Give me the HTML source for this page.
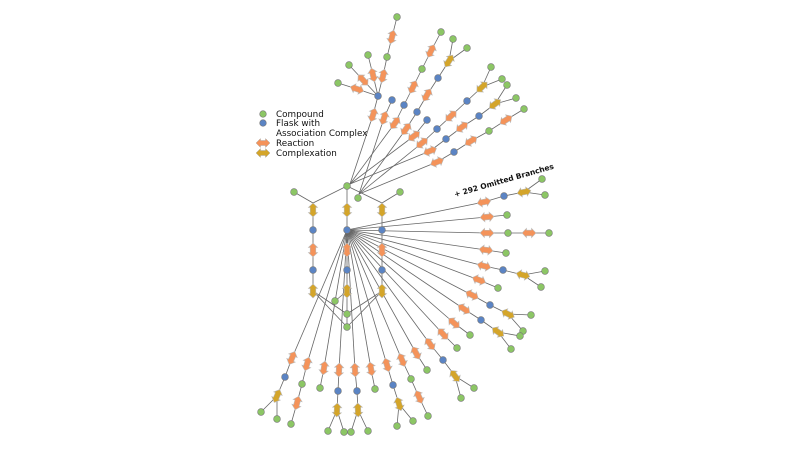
<!DOCTYPE html>
<html><head><meta charset="utf-8"><style>
html,body{margin:0;padding:0;background:#fff;width:800px;height:450px;overflow:hidden}
svg{display:block}
text{font-family:"DejaVu Sans","Liberation Sans",sans-serif;fill:#111}
</style></head><body>
<svg id="s" width="800" height="450" viewBox="0 0 800 450" xmlns="http://www.w3.org/2000/svg">
<g id="e" stroke="#666" stroke-width="0.8" fill="none"></g>
<g id="n" stroke="#777" stroke-width="0.6"></g>
<text x="455" y="197" font-size="7.5" font-weight="bold" transform="rotate(-16 455 197)">+ 292 Omitted Branches</text>
<g font-size="8.8">
<circle cx="263" cy="114" r="3.3" fill="#8cc665" stroke="#777" stroke-width="0.6"/>
<text x="276" y="117">Compound</text>
<circle cx="263" cy="123" r="3.3" fill="#5b84c4" stroke="#777" stroke-width="0.6"/>
<text x="276" y="126">Flask with</text>
<text x="276" y="136">Association Complex</text>
<polygon points="256,143 260.5,138.5 260.5,140.5 265.5,140.5 265.5,138.5 270,143 265.5,147.5 265.5,145.5 260.5,145.5 260.5,147.5" fill="#f4935a" stroke="#aaa" stroke-width="0.5"/>
<text x="276" y="146">Reaction</text>
<polygon points="256,153 260.5,148.5 260.5,150.5 265.5,150.5 265.5,148.5 270,153 265.5,157.5 265.5,155.5 260.5,155.5 260.5,157.5" fill="#d4a52a" stroke="#aaa" stroke-width="0.5"/>
<text x="276" y="156">Complexation</text>
</g>
</svg>
<script>
var H1=[350,184],H2=[359,194],C=[347,230];
var B=[
[H1,[['r',373,115],['b',378,96],['r',357,89,1],['g',338,83],['r',363,80,1],['g',349,65],['r',373,75,1],['g',368,55],['r',383,76,1],['g',387,57],['r',392,37],['g',397,17]]],
[H2,[['r',384,118],['b',392,100]]],
[H1,[['r',395,123],['b',404,105],['r',413,87],['g',422,69],['r',431,51],['g',441,32]]],
[H2,[['r',406,129],['b',417,112],['r',427,95],['b',438,78],['y',449,61],['g',453,39],['g',467,48,4]]],
[H1,[['r',414,136],['b',427,120]]],
[H2,[['r',422,143],['b',437,129],['r',451,116],['b',467,101],['y',482,87],['g',491,67],['g',502,79,4]]],
[H1,[['r',430,151],['b',446,139],['r',462,127],['b',479,116],['y',495,104],['g',507,85],['g',516,98,4]]],
[H2,[['r',437,162],['b',454,152],['r',471,141],['g',489,131],['r',506,120],['g',524,109]]],
[C,[['r',484,202],['b',504,196],['y',524,192],['g',542,179],['g',545,195,2]]],
[C,[['r',487,217],['g',507,215]]],
[C,[['r',487,233],['g',508,233],['r',529,233],['g',549,233]]],
[C,[['r',486,250],['g',506,253]]],
[C,[['r',484,266],['b',503,270],['y',523,275],['g',545,271],['g',541,287,2]]],
[C,[['r',479,280],['g',498,288]]],
[C,[['r',472,295],['b',490,305],['y',508,314],['g',531,315],['g',523,331,2]]],
[C,[['r',464,309],['b',481,320],['y',498,332],['g',520,336],['g',511,349,2]]],
[C,[['r',454,323],['g',470,335]]],
[C,[['r',443,334],['g',457,348]]],
[C,[['r',430,344],['b',443,360],['y',455,376],['g',474,388],['g',461,398,2]]],
[C,[['r',416,353],['g',427,370]]],
[C,[['r',402,360],['g',411,379],['r',419,397],['g',428,416]]],
[C,[['r',387,365],['b',393,385],['y',399,404],['g',413,421],['g',397,426,2]]],
[C,[['r',371,369],['g',375,389]]],
[C,[['r',355,370],['b',357,391],['y',358,410],['g',368,431],['g',351,432,2]]],
[C,[['r',339,370],['b',338,391],['y',337,410],['g',328,431],['g',344,432,2]]],
[C,[['r',324,368],['g',320,388]]],
[C,[['r',307,364],['g',302,384],['r',297,403],['g',291,424]]],
[C,[['r',292,358],['b',285,377],['y',277,396],['g',261,412],['g',277,419,2]]]
];
var E=[],N=[];
B.forEach(function(br){var hub=br[0],pts=[];br[1].forEach(function(it,i){var p=it.length>3?pts[it[3]]:(i==0?hub:pts[i-1]);pts.push([it[1],it[2]]);E.push([p[0],p[1],it[1],it[2]]);N.push([it[0],it[1],it[2],Math.atan2(it[2]-p[1],it[1]-p[0])]);});});
[313,347,382].forEach(function(x){var ys=[210,230,250,270,291],ts=['y','b','r','b','y'];for(var i=0;i<5;i++){N.push([ts[i],x,ys[i],Math.PI/2]);if(i)E.push([x,ys[i-1],x,ys[i]]);}});
E.push([347,186,347,210],[294,192,313,203],[313,203,313,210],[347,186,313,203],[400,192,382,203],[382,203,382,210],[347,186,382,203]);
E.push([313,291,347,314],[313,291,347,327],[382,291,347,314],[382,291,347,327],[347,291,347,327],[347,291,335,301]);
N.push(['g',347,186,0],['g',294,192,0],['g',400,192,0],['g',358,198,0],['g',335,301,0],['g',347,314,0],['g',347,327,0]);
var col={g:'#8cc665',b:'#5b84c4',r:'#f4935a',y:'#d4a52a'};
var eg=document.getElementById('e'),ng=document.getElementById('n'),ns='http://www.w3.org/2000/svg';
E.forEach(function(l){var el=document.createElementNS(ns,'line');el.setAttribute('x1',l[0]);el.setAttribute('y1',l[1]);el.setAttribute('x2',l[2]);el.setAttribute('y2',l[3]);eg.appendChild(el);});
N.forEach(function(n){var el;if(n[0]=='g'||n[0]=='b'){el=document.createElementNS(ns,'circle');el.setAttribute('cx',n[1]);el.setAttribute('cy',n[2]);el.setAttribute('r',3.4);}else{el=document.createElementNS(ns,'polygon');el.setAttribute('points','-7,0 -2.5,-4.6 -2.5,-2.8 2.5,-2.8 2.5,-4.6 7,0 2.5,4.6 2.5,2.8 -2.5,2.8 -2.5,4.6');el.setAttribute('transform','translate('+n[1]+' '+n[2]+') rotate('+(n[3]*180/Math.PI)+')');el.setAttribute('stroke','#bbb');}
el.setAttribute('fill',col[n[0]]);ng.appendChild(el);});
</script>
</body></html>
